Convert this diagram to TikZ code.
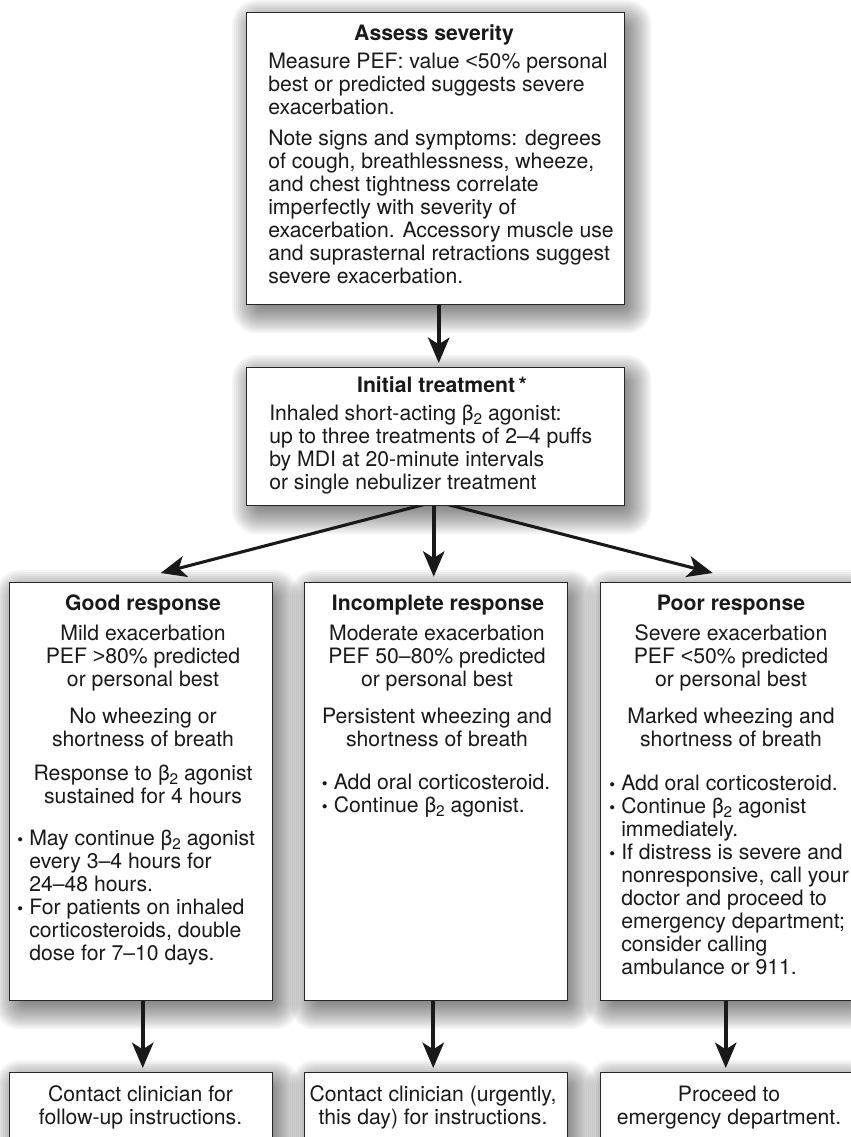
\documentclass[tikz,border=0pt]{standalone}
\usepackage{fontspec}
\setmainfont{TeX Gyre Heros}
\newfontfamily\lsans{Liberation Sans}
\usetikzlibrary{arrows.meta,calc,backgrounds}
\newdimen\pxu \pxu=0.75pt
\newcommand\bt{β\raisebox{-3pt}{\fontsize{11.5pt}{11pt}\selectfont 2}}
\newcommand\fs{\rule{0pt}{12pt}}
\newcommand\bl{\makebox[9pt][l]{\raisebox{0pt}{\fontsize{12.5pt}{12pt}\selectfont •}}}
\newcommand\ii{\hspace*{9pt}}
\newcommand\lt{{\lsans <}}
\newcommand\gt{{\lsans >}}
\tikzset{
  box/.style={draw=black!85, line width=1.1pt, fill=white, inner sep=0pt, anchor=north west},
  txt/.style={inner sep=0pt, font=\fontsize{15.9pt}{17.25pt}\selectfont, text=black!90},
  ttl/.style={inner sep=0pt, font=\fontsize{15.9pt}{17.25pt}\selectfont\bfseries, text=black!90, anchor=north},
  par/.style={txt, anchor=north, align=center},
  lpar/.style={txt, anchor=north west, align=left},
  arr/.style={line width=2.8pt, draw=black!90, -{Stealth[length=19pt,width=16pt,inset=5pt]}},
  darr/.style={line width=2.3pt, draw=black!90, -{Stealth[length=19pt,width=16pt,inset=5pt]}}
}
\begin{document}
\begin{tikzpicture}[x=0.75pt,y=-0.75pt]
\useasboundingbox (0,0) rectangle (850,1137);
% boxes
\node[box, minimum width=378\pxu, minimum height=292\pxu] (top) at (246,12) {};
\node[box, minimum width=378\pxu, minimum height=138\pxu] (init) at (246,367) {};
\node[box, minimum width=263\pxu, minimum height=418\pxu] (good) at (9,582) {};
\node[box, minimum width=263\pxu, minimum height=418\pxu] (inc) at (304,582) {};
\node[box, minimum width=262\pxu, minimum height=418\pxu] (poor) at (600,582) {};
\node[box, minimum width=263\pxu, minimum height=100\pxu] (g2) at (9,1072) {};
\node[box, minimum width=263\pxu, minimum height=100\pxu] (i2) at (304,1072) {};
\node[box, minimum width=262\pxu, minimum height=100\pxu] (p2) at (600,1072) {};
% top box text
\node[ttl] (t0) at (434,24) {\fs Assess severity};
\node[lpar] (t1) at (268,52) {\fs Measure PEF: value \lt50\% personal\\best or predicted suggests severe\\exacerbation.};
\node[lpar] (t2) at (268,129) {\fs Note signs and symptoms: degrees\\of cough, breathlessness, wheeze,\\and chest tightness correlate\\imperfectly with severity of\\exacerbation. Accessory muscle use\\and suprasternal retractions suggest\\severe exacerbation.};
% initial treatment
\node[ttl] (i0) at (442,376) {\fs Initial treatment\,*};
\node[lpar] (i1) at (269,404) {\fs Inhaled short-acting \bt{} agonist:\\up to three treatments of 2–4 puffs\\by MDI at 20-minute intervals\\or single nebulizer treatment};
% good response
\node[ttl] (g0) at (143,594) {\fs Good response};
\node[par] (g1) at (143,624) {\fs Mild exacerbation\\PEF \gt80\% predicted\\or personal best};
\node[par] (g3) at (143,707) {\fs No wheezing or\\shortness of breath};
\node[par] (g4) at (143,764) {\fs Response to \bt{} agonist\\sustained for 4 hours};
\node[lpar] (g5) at (17,829) {\fs\bl May continue \bt{} agonist\\\ii every 3–4 hours for\\\ii 24–48 hours.\\\bl For patients on inhaled\\\ii corticosteroids, double\\\ii dose for 7–10 days.};
% incomplete response
\node[ttl] (n0) at (438,594) {\fs Incomplete response};
\node[par] (n1) at (437,624) {\fs Moderate exacerbation\\PEF 50–80\% predicted\\or personal best};
\node[par] (n3) at (437,707) {\fs Persistent wheezing and\\shortness of breath};
\node[lpar] (n4) at (321.5,773) {\fs\bl Add oral corticosteroid.\\\bl Continue \bt{} agonist.};
% poor response
\node[ttl] (p0) at (731,594) {\fs Poor response};
\node[par] (p1) at (731,624) {\fs Severe exacerbation\\PEF \lt50\% predicted\\or personal best};
\node[par] (p3) at (731,707) {\fs Marked wheezing and\\shortness of breath};
\node[lpar] (p4) at (609,774) {\fs\bl Add oral corticosteroid.\\\bl Continue \bt{} agonist\\\ii immediately.\\\bl If distress is severe and\\\ii nonresponsive, call your\\\ii doctor and proceed to\\\ii emergency department;\\\ii consider calling\\\ii ambulance or 911.};
% bottom boxes text
\node[par] (g2t) at (140.5,1085) {\fs Contact clinician for\\follow-up instructions.};
\node[par] (i2t) at (433,1085) {\fs Contact clinician (urgently,\\this day) for instructions.};
\node[par] (p2t) at (729,1085) {\fs Proceed to\\emergency department.};
% coordinates for fan arrows
\coordinate (fan) at ($(init.south)+(0,-5)$);
\coordinate (gtip) at ($(good.north)+(19.5,-9)$);
\coordinate (ptip) at ($(poor.north)+(-19,-9)$);
\begin{pgfonlayer}{background}
\fill[white] (0,0) rectangle (850,1137);
\foreach \b in {top,init,good,inc,poor,g2,i2,p2}{
  \foreach \r in {0,...,14}{
    \pgfmathsetmacro\e{-8+2*\r}
    \pgfmathsetmacro\rc{2+1.2*\r}
    \fill[black, opacity=0.04, rounded corners=\rc pt]
      ($(\b.north west)+(6-\e,8-\e)$) rectangle ($(\b.south east)+(6+\e,8+\e)$);
  }
}
\draw[arr, shorten >=3pt] ($(top.south)+(3,0)$) -- ($(init.north)+(3,0)$);
\draw[arr, shorten >=4pt] ($(init.south)+(-2,0)$) -- ($(inc.north)+(-2.5,0)$);
\draw[darr] (fan) -- (gtip);
\draw[darr] (fan) -- (ptip);
\draw[arr, shorten >=3pt] ($(good.south)+(1.5,0)$) -- ($(g2.north)+(1.5,0)$);
\draw[arr, shorten >=3pt] ($(inc.south)+(-3,0)$) -- ($(i2.north)+(-3,0)$);
\draw[arr, shorten >=3pt] ($(poor.south)+(-6,0)$) -- ($(p2.north)+(-6,0)$);
\end{pgfonlayer}
\end{tikzpicture}
\end{document}
